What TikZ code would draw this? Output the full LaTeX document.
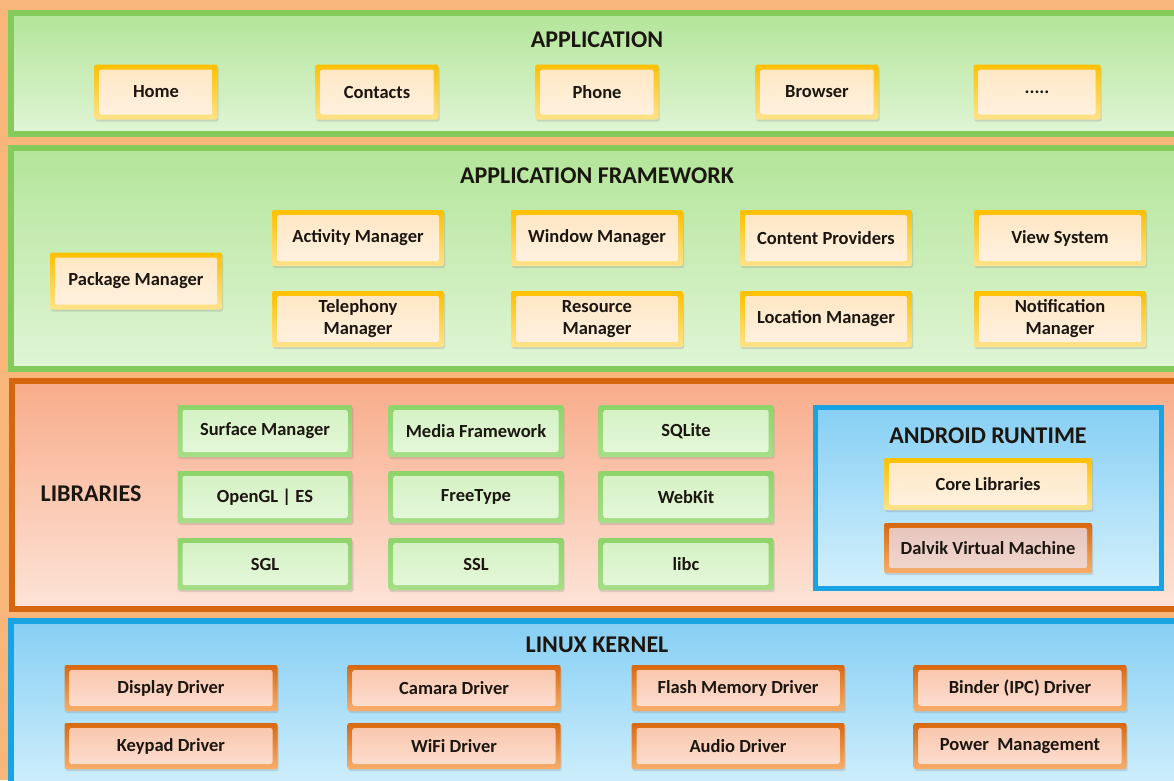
\documentclass[tikz,border=0pt]{standalone}
\usepackage{fontspec}
\setmainfont{Carlito}
\usetikzlibrary{shadows}

\definecolor{bgorange}{HTML}{F9B67A}
\definecolor{laygreen}{HTML}{84CB5C}
\definecolor{layorange}{HTML}{D6650F}
\definecolor{layblue}{HTML}{1AA3E2}
\definecolor{txt}{HTML}{1C1610}
% fills
\definecolor{greentop}{HTML}{B3E599}
\definecolor{greenbot}{HTML}{E0F5D6}
\definecolor{salmontop}{HTML}{F8AC8A}
\definecolor{salmonbot}{HTML}{FDE4D8}
\definecolor{bluetop}{HTML}{86CFF4}
\definecolor{bluebot}{HTML}{D3F0FC}
% box colours
\definecolor{yelA}{HTML}{FFC000}
\definecolor{yelB}{HTML}{FFE38C}
\definecolor{yelC}{HTML}{FFE6C2}
\definecolor{yelD}{HTML}{FFF2E2}
\definecolor{grnA}{HTML}{8ED46A}
\definecolor{grnB}{HTML}{A6DE88}
\definecolor{grnC}{HTML}{D3F1C2}
\definecolor{grnD}{HTML}{E6F8DC}
\definecolor{orgA}{HTML}{D8680F}
\definecolor{orgB}{HTML}{F7AE6A}
\definecolor{orgC}{HTML}{F9C4AA}
\definecolor{orgD}{HTML}{FDE0D2}
\definecolor{dvkC}{HTML}{E6C4BC}
\definecolor{dvkD}{HTML}{F1D8D0}

\tikzset{
  twotone/.style n args={4}{top color=#1, bottom color=#2,
    path picture={\shade[top color=#3, bottom color=#4]
      ([shift={(5pt,-5pt)}]path picture bounding box.north west) rectangle
      ([shift={(-5pt,5pt)}]path picture bounding box.south east);}},
  box/.style={rounded corners=2pt, text=txt, align=center,
    font=\bfseries\fontsize{18.5}{22}\selectfont,
    drop shadow={opacity=0.25, shadow xshift=1pt, shadow yshift=-2pt}},
  appbox/.style={box, twotone={yelA}{yelB}{yelC}{yelD}},
  libbox/.style={box, twotone={grnA}{grnB}{grnC}{grnD},
    minimum width=175pt, minimum height=52pt},
  drvbox/.style={box, twotone={orgA}{orgB}{orgC}{orgD},
    minimum width=213pt, minimum height=46pt},
  title/.style={text=txt, font=\bfseries\fontsize{24}{26}\selectfont},
}

\begin{document}
\begin{tikzpicture}[x=1pt, y=-1pt]
\useasboundingbox (0,0) rectangle (1174,780);
\fill[bgorange] (0,0) rectangle (1174,780);

% layers
\draw[laygreen, line width=6pt, top color=greentop, bottom color=greenbot] (11,13) rectangle (1185,134);
\draw[laygreen, line width=6pt, top color=greentop, bottom color=greenbot] (11,148) rectangle (1185,369);
\draw[layorange, line width=6pt, top color=salmontop, bottom color=salmonbot] (12,381) rectangle (1185,609);
\draw[layblue, line width=6pt, top color=bluetop, bottom color=bluebot] (11,621) rectangle (1185,795);
\draw[layblue, line width=5pt, top color=bluetop, bottom color=bluebot, drop shadow={opacity=0.25}] (815,407) rectangle (1161,588);

% application
\node[title] (app) at (597,40) {APPLICATION};
\node[appbox, minimum width=123pt, minimum height=55pt] (home) at (156,92) {Home};
\node[appbox, minimum width=123pt, minimum height=55pt] (contacts) at (377,92) {Contacts};
\node[appbox, minimum width=123pt, minimum height=55pt] (phone) at (597,92) {Phone};
\node[appbox, minimum width=123pt, minimum height=55pt] (browser) at (817,92) {Browser};
\node[appbox, minimum width=127pt, minimum height=55pt] (more) at (1037,92) {.....};

% application framework
\node[title] (frame) at (597,176) {APPLICATION FRAMEWORK};
\node[appbox, minimum width=172pt, minimum height=57pt] (package) at (136,281) {Package Manager};
\node[appbox, minimum width=172pt, minimum height=56pt] (activity) at (358,238) {Activity Manager};
\node[appbox, minimum width=172pt, minimum height=56pt] (telephony) at (358,319) {Telephony\\Manager};
\node[appbox, minimum width=172pt, minimum height=56pt] (window) at (597,238) {Window Manager};
\node[appbox, minimum width=172pt, minimum height=56pt] (resource) at (597,319) {Resource\\Manager};
\node[appbox, minimum width=172pt, minimum height=56pt] (content) at (826,238) {Content Providers};
\node[appbox, minimum width=172pt, minimum height=56pt] (location) at (826,319) {Location Manager};
\node[appbox, minimum width=172pt, minimum height=56pt] (view) at (1060,238) {View System};
\node[appbox, minimum width=172pt, minimum height=56pt] (notification) at (1060,319) {Notification\\Manager};

% libraries
\node[title] (libs) at (91,494) {LIBRARIES};
\node[libbox] (surface) at (265,431) {Surface Manager};
\node[libbox] (media) at (476,431) {Media Framework};
\node[libbox] (sqlite) at (686,431) {SQLite};
\node[libbox] (opengl) at (265,497) {OpenGL | ES};
\node[libbox] (freetype) at (476,497) {FreeType};
\node[libbox] (webkit) at (686,497) {WebKit};
\node[libbox] (sgl) at (265,564) {SGL};
\node[libbox] (ssl) at (476,564) {SSL};
\node[libbox] (libc) at (686,564) {libc};

% android runtime
\node[title] (runtime) at (988,436) {ANDROID RUNTIME};
\node[appbox, minimum width=208pt, minimum height=52pt] (core) at (988,484) {Core Libraries};
\node[box, twotone={orgA}{orgB}{dvkC}{dvkD}, minimum width=208pt, minimum height=50pt] (dalvik) at (988,548) {Dalvik Virtual Machine};

% linux kernel
\node[title] (kernel) at (597,645) {LINUX KERNEL};
\node[drvbox] (display) at (171,688) {Display Driver};
\node[drvbox] (camara) at (454,688) {Camara Driver};
\node[drvbox] (flash) at (738,688) {Flash Memory Driver};
\node[drvbox] (binder) at (1020,688) {Binder (IPC) Driver};
\node[drvbox] (keypad) at (171,746) {Keypad Driver};
\node[drvbox] (wifi) at (454,746) {WiFi Driver};
\node[drvbox] (audio) at (738,746) {Audio Driver};
\node[drvbox] (power) at (1020,746) {Power~ Management};
\end{tikzpicture}
\end{document}
